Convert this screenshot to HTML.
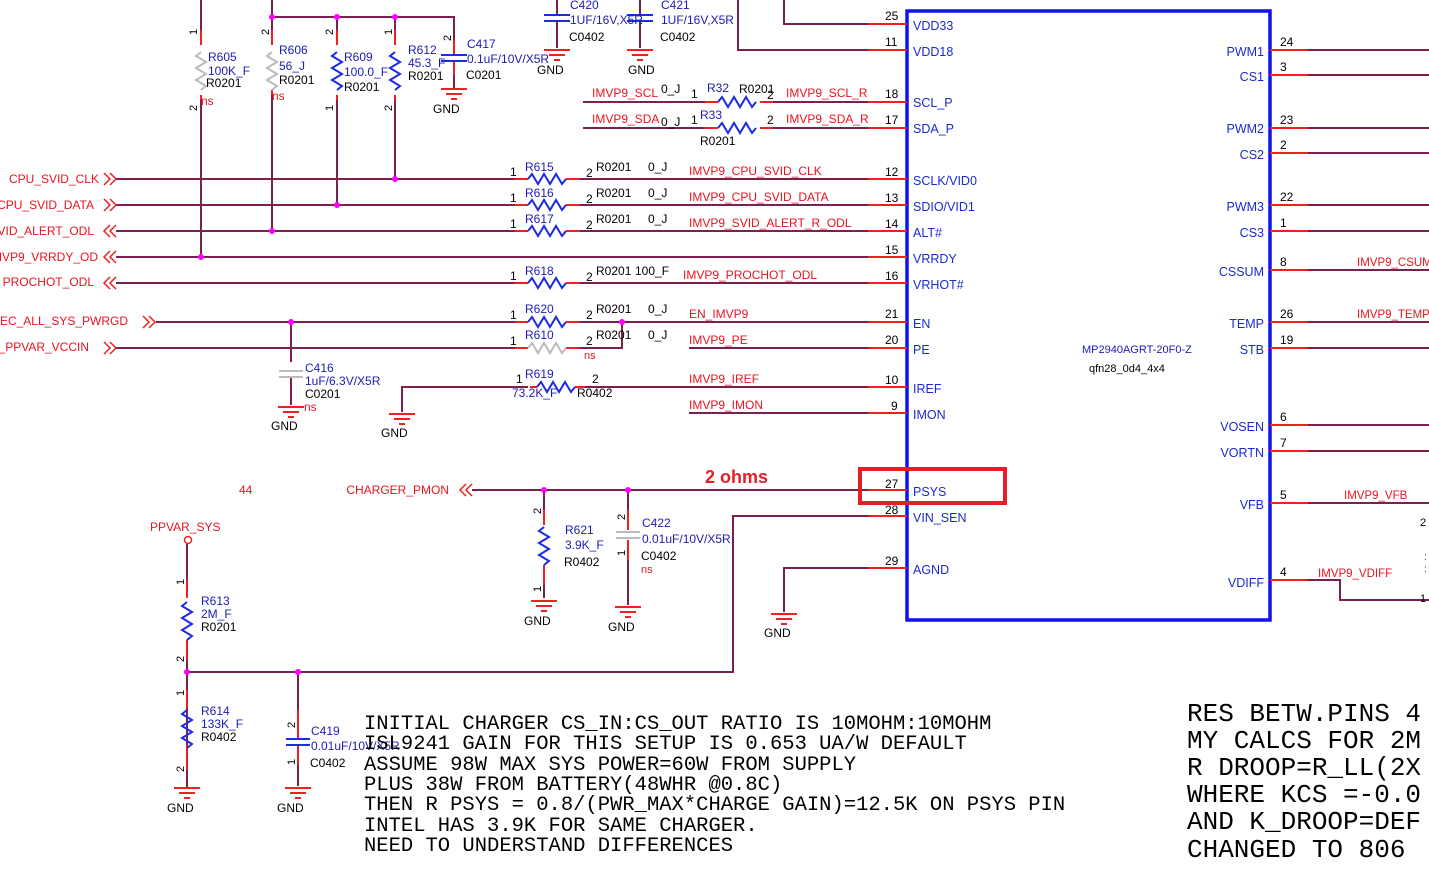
<!DOCTYPE html>
<html><head><meta charset="utf-8"><style>
html,body{margin:0;padding:0;background:#fff;}
svg{display:block;font-family:"Liberation Sans",Arial,sans-serif;font-size:12px;}
.r{fill:#e8141e;}
.b{fill:#1c1cb4;}
.k{fill:#000;}
.pn{fill:#1a2ad0;font-size:12.5px;}
.w{stroke:#7a2150;stroke-width:2;fill:none;}
.p{stroke:#f02020;stroke-width:2;fill:none;}
.mono{font-family:"Liberation Mono","Courier New",monospace;fill:#000;}
</style></head><body>
<svg width="1429" height="879" viewBox="0 0 1429 879" xmlns="http://www.w3.org/2000/svg">
<defs>
<g id="gnd"><line x1="-13" y1="0" x2="13" y2="0" stroke="#f02020" stroke-width="2"/><line x1="-8" y1="5" x2="8" y2="5" stroke="#f02020" stroke-width="2"/><line x1="-3" y1="10" x2="3" y2="10" stroke="#f02020" stroke-width="2"/></g>
<polyline id="zh" points="0,0 4,-5 10,5 16,-5 22,5 28,-5 34,5 38,0" stroke-width="2" fill="none"/>
<polyline id="zv" points="0,0 -5,4 5,10 -5,16 5,22 -5,28 5,34 0,38" stroke-width="2" fill="none"/>
</defs>

<rect x="907" y="11" width="363" height="609" fill="none" stroke="#1010f0" stroke-width="3.5"/>
<text x="1082" y="353" class="b" font-size="11">MP2940AGRT-20F0-Z</text>
<text x="1089" y="372" class="k" font-size="11">qfn28_0d4_4x4</text>

<g>
<path class="w" d="M784 0 V24 H868 M738 0 V50 H868 M583 102 H705 M760 102 H868 M583 128 H705 M760 128 H868
M116 179 H528 M566 179 H868 M116 205 H528 M566 205 H868 M116 231 H528 M566 231 H868 M116 257 H868 M116 283 H528 M566 283 H868
M156 322 H528 M566 322 H868 M116 348 H528 M566 348 H582 M622 322 V348 H582 M689 348 H868
M402 412 V387 H528 M575 387 H868 M689 413 H868 M472 490 H868 M868 516 H733 V672 H187 M868 568 H784 V612"/>
<path class="p" d="M868 24H907M868 50H907M868 102H907M868 128H907M868 179H907M868 205H907M868 231H907M868 257H907M868 283H907M868 322H907M868 348H907M868 387H907M868 413H907M868 490H907M868 516H907M868 568H907"/>
<g class="k" font-size="12">
<text x="885" y="20">25</text><text x="885" y="46">11</text><text x="885" y="98">18</text><text x="885" y="124">17</text>
<text x="885" y="176">12</text><text x="885" y="202">13</text><text x="885" y="228">14</text><text x="885" y="254">15</text><text x="885" y="280">16</text>
<text x="885" y="318">21</text><text x="885" y="344">20</text><text x="885" y="384">10</text><text x="891" y="410">9</text>
<text x="885" y="488">27</text><text x="885" y="514">28</text><text x="885" y="565">29</text>
</g>
<g class="pn">
<text x="913" y="30">VDD33</text><text x="913" y="56">VDD18</text><text x="913" y="107">SCL_P</text><text x="913" y="133">SDA_P</text>
<text x="913" y="185">SCLK/VID0</text><text x="913" y="211">SDIO/VID1</text><text x="913" y="237">ALT#</text><text x="913" y="263">VRRDY</text><text x="913" y="289">VRHOT#</text>
<text x="913" y="328">EN</text><text x="913" y="354">PE</text><text x="913" y="393">IREF</text><text x="913" y="419">IMON</text>
<text x="913" y="496">PSYS</text><text x="913" y="522">VIN_SEN</text><text x="913" y="574">AGND</text>
</g>
</g>

<path class="w" d="M1308 50H1429M1308 75H1429M1308 128H1429M1308 153H1429M1308 205H1429M1308 231H1429M1308 270H1429M1308 322H1429M1308 348H1429M1308 425H1429M1308 451H1429M1308 503H1429M1308 580H1340V600H1429"/>
<path class="p" d="M1270 50H1308M1270 75H1308M1270 128H1308M1270 153H1308M1270 205H1308M1270 231H1308M1270 270H1308M1270 322H1308M1270 348H1308M1270 425H1308M1270 451H1308M1270 503H1308M1270 580H1308"/>
<g class="k" font-size="12">
<text x="1280" y="46">24</text><text x="1280" y="71">3</text><text x="1280" y="124">23</text><text x="1280" y="149">2</text>
<text x="1280" y="201">22</text><text x="1280" y="227">1</text><text x="1280" y="266">8</text><text x="1280" y="318">26</text><text x="1280" y="344">19</text>
<text x="1280" y="421">6</text><text x="1280" y="447">7</text><text x="1280" y="499">5</text><text x="1280" y="576">4</text>
</g>
<g class="pn" text-anchor="end">
<text x="1264" y="56">PWM1</text><text x="1264" y="81">CS1</text><text x="1264" y="133">PWM2</text><text x="1264" y="159">CS2</text>
<text x="1264" y="211">PWM3</text><text x="1264" y="237">CS3</text><text x="1264" y="276">CSSUM</text><text x="1264" y="328">TEMP</text><text x="1264" y="354">STB</text>
<text x="1264" y="431">VOSEN</text><text x="1264" y="457">VORTN</text><text x="1264" y="509">VFB</text><text x="1264" y="587">VDIFF</text>
</g>
<g class="r" font-size="11.5">
<text x="1357" y="266">IMVP9_CSUM</text><text x="1357" y="318">IMVP9_TEMP</text><text x="1344" y="499">IMVP9_VFB</text><text x="1318" y="577">IMVP9_VDIFF</text>
</g>
<text x="1420" y="526" class="k" font-size="11">2</text><text x="1420" y="602" class="k" font-size="11">1</text>
<text x="1424" y="560" class="b" font-size="10">:</text><text x="1424" y="572" class="b" font-size="10">:</text>

<path class="w" d="M201 0V30 M201 100V257 M272 0V30 M272 95V231 M272 17H454V40 M337 17V30 M337 100V205 M395 17V30 M395 100V179 M454 75V88"/>
<path class="p" d="M201 30V45M201 95V100M272 30V45M272 90V95M337 30V45M337 95V100M395 30V45M395 95V100M454 40V55M454 62V75"/>
<use href="#zv" x="201" y="52" stroke="#bbb"/>
<use href="#zv" x="272" y="52" stroke="#bbb"/>
<use href="#zv" x="337" y="52" stroke="#1d2be0"/>
<use href="#zv" x="395" y="52" stroke="#1d2be0"/>
<path d="M441 55H467M441 61H467" stroke="#1d2be0" stroke-width="2"/>
<use href="#gnd" x="454" y="89"/>
<g fill="#ff00ff"><circle cx="201" cy="257" r="3"/><circle cx="272" cy="231" r="3"/><circle cx="337" cy="205" r="3"/><circle cx="395" cy="179" r="3"/><circle cx="272" cy="17" r="3"/><circle cx="337" cy="17" r="3"/><circle cx="395" cy="17" r="3"/></g>
<g class="k" font-size="11">
<text x="190" y="36" transform="rotate(-90 193 32)">1</text><text x="190" y="112" transform="rotate(-90 193 108)">2</text>
<text x="262" y="36" transform="rotate(-90 265 32)">2</text>
<text x="326" y="36" transform="rotate(-90 329 32)">2</text><text x="326" y="112" transform="rotate(-90 329 108)">1</text>
<text x="385" y="36" transform="rotate(-90 388 32)">1</text><text x="385" y="112" transform="rotate(-90 388 108)">2</text>
<text x="444" y="42" transform="rotate(-90 447 38)">2</text>
</g>
<text x="208" y="61" class="b">R605</text><text x="208" y="75" class="b">100K_F</text><text x="206" y="87" class="k">R0201</text><text x="201" y="105" class="r">ns</text>
<text x="279" y="54" class="b">R606</text><text x="279" y="70" class="b">56_J</text><text x="279" y="84" class="k">R0201</text><text x="272" y="100" class="r">ns</text>
<text x="344" y="61" class="b">R609</text><text x="344" y="76" class="b">100.0_F</text><text x="344" y="91" class="k">R0201</text>
<text x="408" y="54" class="b">R612</text><text x="408" y="67" class="b">45.3_F</text><text x="408" y="80" class="k">R0201</text>
<text x="467" y="48" class="b">C417</text><text x="467" y="63" class="b">0.1uF/10V/X5R</text><text x="466" y="79" class="k">C0201</text>
<text x="433" y="113" class="k">GND</text>

<path class="w" d="M557 0V15 M557 22V48 M640 0V15 M640 22V48"/>
<path d="M544 15H570M544 21H570M627 15H653M627 21H653" stroke="#1d2be0" stroke-width="2"/>
<use href="#gnd" x="557" y="50"/><use href="#gnd" x="640" y="50"/>
<text x="570" y="9" class="b">C420</text><text x="570" y="24" class="b">1UF/16V,X5R</text><text x="569" y="41" class="k">C0402</text><text x="537" y="74" class="k">GND</text>
<text x="661" y="9" class="b">C421</text><text x="661" y="24" class="b">1UF/16V,X5R</text><text x="660" y="41" class="k">C0402</text><text x="628" y="74" class="k">GND</text>

<path class="p" d="M705 102H718M760 102H773M705 128H718M760 128H773"/>
<use href="#zh" x="718" y="102" stroke="#1d2be0"/><use href="#zh" x="718" y="128" stroke="#1d2be0"/>
<text x="592" y="97" class="r">IMVP9_SCL</text><text x="661" y="93" class="k">0_J</text><text x="691" y="98" class="k">1</text><text x="707" y="92" class="b">R32</text><text x="739" y="93" class="k">R0201</text><text x="767" y="99" class="k">2</text><text x="786" y="97" class="r">IMVP9_SCL_R</text>
<text x="592" y="123" class="r">IMVP9_SDA</text><text x="661" y="126" class="k">0_J</text><text x="691" y="124" class="k">1</text><text x="700" y="119" class="b">R33</text><text x="767" y="124" class="k">2</text><text x="786" y="123" class="r">IMVP9_SDA_R</text>
<text x="700" y="145" class="k">R0201</text>

<path class="p" d="M515 179H528M566 179H580M515 205H528M566 205H580M515 231H528M566 231H580M515 283H528M566 283H580M515 322H528M566 322H580M515 348H528M566 348H580M530 387H537M575 387H585"/>
<use href="#zh" x="528" y="179" stroke="#1d2be0"/><use href="#zh" x="528" y="205" stroke="#1d2be0"/><use href="#zh" x="528" y="231" stroke="#1d2be0"/><use href="#zh" x="528" y="283" stroke="#1d2be0"/><use href="#zh" x="528" y="322" stroke="#1d2be0"/><use href="#zh" x="528" y="348" stroke="#bbb"/><use href="#zh" x="537" y="387" stroke="#1d2be0"/>
<g class="k">
<text x="510" y="176">1</text><text x="586" y="177">2</text><text x="596" y="171">R0201</text><text x="648" y="171">0_J</text>
<text x="510" y="202">1</text><text x="586" y="203">2</text><text x="596" y="197">R0201</text><text x="648" y="197">0_J</text>
<text x="510" y="228">1</text><text x="586" y="229">2</text><text x="596" y="223">R0201</text><text x="648" y="223">0_J</text>
<text x="510" y="280">1</text><text x="586" y="281">2</text><text x="596" y="275">R0201</text><text x="635" y="275">100_F</text>
<text x="510" y="319">1</text><text x="586" y="319">2</text><text x="596" y="313">R0201</text><text x="648" y="313">0_J</text>
<text x="510" y="345">1</text><text x="586" y="345">2</text><text x="596" y="339">R0201</text><text x="648" y="339">0_J</text>
<text x="516" y="383">1</text><text x="592" y="383">2</text><text x="577" y="397">R0402</text>
</g>
<g class="b">
<text x="525" y="171">R615</text><text x="525" y="197">R616</text><text x="525" y="223">R617</text><text x="525" y="275">R618</text><text x="525" y="313">R620</text><text x="525" y="339">R610</text><text x="525" y="378">R619</text><text x="512" y="397">73.2K_F</text>
</g>
<text x="584" y="359" class="r" font-size="11">ns</text>
<g class="r">
<text x="689" y="175">IMVP9_CPU_SVID_CLK</text><text x="689" y="201">IMVP9_CPU_SVID_DATA</text><text x="689" y="227">IMVP9_SVID_ALERT_R_ODL</text><text x="683" y="279">IMVP9_PROCHOT_ODL</text>
<text x="689" y="318">EN_IMVP9</text><text x="689" y="344">IMVP9_PE</text><text x="689" y="383">IMVP9_IREF</text><text x="689" y="409">IMVP9_IMON</text>
</g>
<circle cx="622" cy="322" r="3" fill="#ff00ff"/>

<g class="r">
<text x="99" y="183" text-anchor="end">CPU_SVID_CLK</text><text x="94" y="209" text-anchor="end">CPU_SVID_DATA</text><text x="94" y="235" text-anchor="end">SVID_ALERT_ODL</text><text x="98" y="261" text-anchor="end">IMVP9_VRRDY_OD</text><text x="94" y="286" text-anchor="end">PROCHOT_ODL</text>
<text x="128" y="325" text-anchor="end">G_EC_ALL_SYS_PWRGD</text><text x="89" y="351" text-anchor="end">N_PPVAR_VCCIN</text>
<text x="239" y="494">44</text><text x="449" y="494" text-anchor="end">CHARGER_PMON</text><text x="150" y="531">PPVAR_SYS</text>
</g>
<g stroke="#f02020" stroke-width="1.5" fill="none">
<path d="M104 173l6 6-6 6M110 173l6 6-6 6M104 199l6 6-6 6M110 199l6 6-6 6"/>
<path d="M110 225l-6 6 6 6M116 225l-6 6 6 6M110 251l-6 6 6 6M116 251l-6 6 6 6M110 277l-6 6 6 6M116 277l-6 6 6 6"/>
<path d="M143 316l6 6-6 6M149 316l6 6-6 6M104 342l6 6-6 6M110 342l6 6-6 6"/>
<path d="M466 484l-6 6 6 6M472 484l-6 6 6 6"/>
<circle cx="188" cy="540" r="3.5"/>
</g>

<path class="w" d="M291 322V362 M291 378V405"/>
<path d="M279 371H303M279 377H303" stroke="#bbb" stroke-width="2"/>
<circle cx="291" cy="322" r="3" fill="#ff00ff"/>
<use href="#gnd" x="291" y="407"/>
<text x="305" y="372" class="b">C416</text><text x="305" y="385" class="b">1uF/6.3V/X5R</text><text x="305" y="398" class="k">C0201</text><text x="304" y="411" class="r">ns</text>
<text x="271" y="430" class="k">GND</text>
<use href="#gnd" x="402" y="414"/><text x="381" y="437" class="k">GND</text>

<rect x="860" y="469" width="145" height="34" fill="none" stroke="#e41e26" stroke-width="4"/>
<text x="705" y="483" fill="#e41e26" font-size="18" font-weight="bold">2 ohms</text>

<path class="w" d="M544 490V525 M544 565V598 M628 490V530 M628 540V605"/>
<path class="p" d="M544 510V525M544 565V585M628 510V530M628 540V560"/>
<use href="#zv" x="544" y="527" stroke="#1d2be0"/>
<path d="M616 532H640M616 538H640" stroke="#bbb" stroke-width="2"/>
<g fill="#ff00ff"><circle cx="544" cy="490" r="3"/><circle cx="628" cy="490" r="3"/></g>
<use href="#gnd" x="544" y="601"/><use href="#gnd" x="628" y="607"/>
<g class="k" font-size="11"><text x="534" y="515" transform="rotate(-90 537 511)">2</text><text x="534" y="593" transform="rotate(-90 537 589)">1</text><text x="618" y="521" transform="rotate(-90 621 517)">2</text><text x="618" y="557" transform="rotate(-90 621 553)">1</text></g>
<text x="565" y="534" class="b">R621</text><text x="565" y="549" class="b">3.9K_F</text><text x="564" y="566" class="k">R0402</text>
<text x="642" y="527" class="b">C422</text><text x="642" y="543" class="b">0.01uF/10V/X5R</text><text x="641" y="560" class="k">C0402</text><text x="641" y="573" class="r" font-size="11">ns</text>
<text x="524" y="625" class="k">GND</text><text x="608" y="631" class="k">GND</text>
<use href="#gnd" x="784" y="614"/><text x="764" y="637" class="k">GND</text>

<path class="w" d="M187 544V598 M187 640V788 M298 672V738 M298 746V786"/>
<path class="p" d="M187 580V598M187 640V660M187 690V708M187 745V770M298 710V738M298 746V765"/>
<use href="#zv" x="187" y="602" stroke="#1d2be0"/><use href="#zv" x="187" y="710" stroke="#1d2be0"/>
<path d="M286 739H310M286 745H310" stroke="#1d2be0" stroke-width="2"/>
<g fill="#ff00ff"><circle cx="187" cy="672" r="3"/><circle cx="298" cy="672" r="3"/></g>
<use href="#gnd" x="187" y="788"/><use href="#gnd" x="298" y="788"/>
<g class="k" font-size="11"><text x="177" y="586" transform="rotate(-90 180 582)">1</text><text x="177" y="663" transform="rotate(-90 180 659)">2</text><text x="177" y="697" transform="rotate(-90 180 693)">1</text><text x="177" y="773" transform="rotate(-90 180 769)">2</text><text x="288" y="729" transform="rotate(-90 291 725)">2</text><text x="288" y="766" transform="rotate(-90 291 762)">1</text></g>
<text x="201" y="605" class="b">R613</text><text x="201" y="618" class="b">2M_F</text><text x="201" y="631" class="k">R0201</text>
<text x="201" y="715" class="b">R614</text><text x="201" y="728" class="b">133K_F</text><text x="201" y="741" class="k">R0402</text>
<text x="311" y="735" class="b">C419</text><text x="311" y="750" class="b">0.01uF/10V/X5R</text><text x="310" y="767" class="k">C0402</text>
<text x="167" y="812" class="k">GND</text><text x="277" y="812" class="k">GND</text>

<g class="mono" font-size="20.5">
<text x="364" y="729">INITIAL CHARGER CS_IN:CS_OUT RATIO IS 10MOHM:10MOHM</text>
<text x="364" y="749">ISL9241 GAIN FOR THIS SETUP IS 0.653 UA/W DEFAULT</text>
<text x="364" y="770">ASSUME 98W MAX SYS POWER=60W FROM SUPPLY</text>
<text x="364" y="790">PLUS 38W FROM BATTERY(48WHR @0.8C)</text>
<text x="364" y="810">THEN R PSYS = 0.8/(PWR_MAX*CHARGE GAIN)=12.5K ON PSYS PIN</text>
<text x="364" y="831">INTEL HAS 3.9K FOR SAME CHARGER.</text>
<text x="364" y="851">NEED TO UNDERSTAND DIFFERENCES</text>
</g>
<g class="mono" font-size="26">
<text x="1187" y="721">RES BETW.PINS 4</text>
<text x="1187" y="748">MY CALCS FOR 2M</text>
<text x="1187" y="775">R DROOP=R_LL(2X</text>
<text x="1187" y="802">WHERE KCS =-0.0</text>
<text x="1187" y="829">AND K_DROOP=DEF</text>
<text x="1187" y="857">CHANGED TO 806</text>
</g>
</svg>
</body></html>
